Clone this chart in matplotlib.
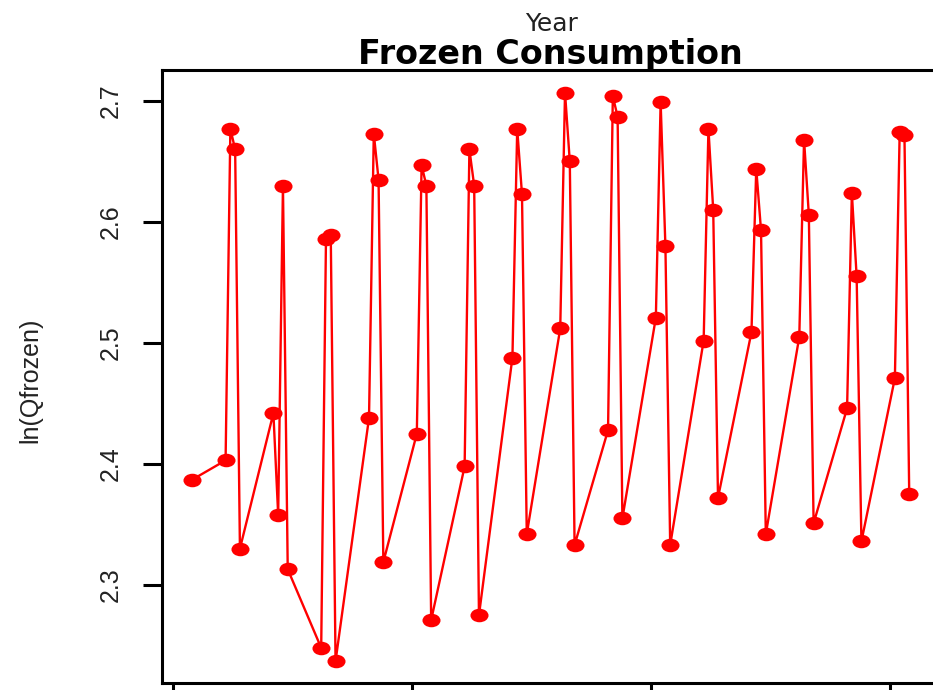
import numpy as np
import matplotlib.pyplot as plt
from matplotlib.path import Path
from matplotlib.markers import MarkerStyle
from matplotlib.transforms import Affine2D

# quarterly ln(Q) of frozen consumption, x = year + quarter/10
year = [1980,
        1981, 1981, 1981, 1981,
        1982, 1982, 1982, 1982,
        1983, 1983, 1983, 1983,
        1984, 1984, 1984, 1984,
        1985, 1985, 1985, 1985,
        1986, 1986, 1986, 1986,
        1987, 1987, 1987, 1987,
        1988, 1988, 1988, 1988,
        1989, 1989, 1989, 1989,
        1990, 1990, 1990, 1990,
        1991, 1991, 1991, 1991,
        1992, 1992, 1992, 1992,
        1993, 1993, 1993, 1993,
        1994, 1994, 1994, 1994,
        1995, 1995, 1995, 1995]
quarter = [4] + [1, 2, 3, 4] * 15
ln_qfrozen = [2.387,
              2.403, 2.677, 2.660, 2.330,
              2.442, 2.358, 2.630, 2.313,
              2.248, 2.586, 2.589, 2.237,
              2.438, 2.673, 2.635, 2.319,
              2.425, 2.647, 2.630, 2.271,
              2.398, 2.660, 2.630, 2.275,
              2.488, 2.677, 2.623, 2.342,
              2.512, 2.707, 2.650, 2.333,
              2.428, 2.704, 2.687, 2.355,
              2.521, 2.699, 2.580, 2.333,
              2.502, 2.677, 2.610, 2.372,
              2.509, 2.644, 2.593, 2.342,
              2.505, 2.668, 2.606, 2.351,
              2.446, 2.624, 2.555, 2.336,
              2.471, 2.674, 2.672, 2.375]
x_ticks = [1980, 1985, 1990, 1995]
y_ticks = [2.3, 2.4, 2.5, 2.6, 2.7]

x = np.array(year) + np.array(quarter) / 10.0

W, H = 933, 690
fig = plt.figure(figsize=(W / 100, H / 100), dpi=100, facecolor="white")
ax = fig.add_axes([162 / W, 1 - 683 / H, 774 / W, (683 - 70) / H])

# slightly wide ellipse marker like the original
ell = Path.unit_circle().transformed(Affine2D().scale(1.0, 0.75))
ax.plot(x, ln_qfrozen, color="#ff0000", lw=1.7,
        marker=MarkerStyle(ell), markersize=13, markeredgewidth=0,
        markerfacecolor="#ff0000")

ax.set_xlim(1979.77, 1995.96)
ax.set_ylim(2.219, 2.7256)
ax.set_xticks(x_ticks)
ax.set_yticks(y_ticks)
ax.tick_params(axis="x", labelbottom=False, length=13.5, width=2.2, direction="out")
ax.tick_params(axis="y", length=13.5, width=2.2, direction="out", pad=15)
ax.set_yticklabels([f"{v:.1f}" for v in y_ticks], rotation=90, va="center",
                   family="Liberation Sans", fontsize=18, color="#222222")
for s in ax.spines.values():
    s.set_linewidth(2.2)
    s.set_color("black")

fig.text(30 / W, 1 - 380 / H, "ln(Qfrozen)", rotation=90, ha="center", va="center",
         family="Liberation Sans", fontsize=18, color="#222222")
fig.text(552 / W, 1 - 31 / H, "Year", ha="center", va="baseline",
         family="DejaVu Sans", fontsize=18, color="#222222")
fig.text(550 / W, 1 - 64 / H, "Frozen Consumption", ha="center", va="baseline",
         family="DejaVu Sans", fontweight="bold", fontsize=24, color="black")

fig.savefig("out.png", dpi=100)
